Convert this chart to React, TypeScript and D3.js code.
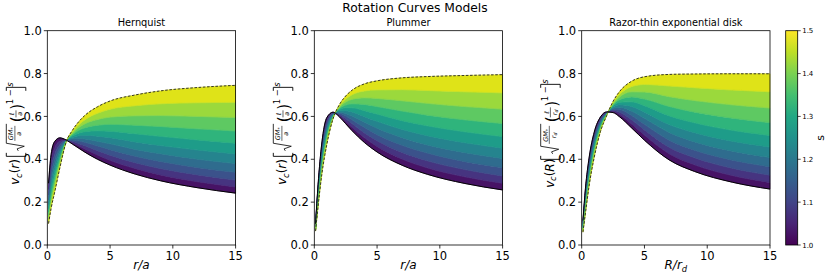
import React from 'react';
import * as d3 from 'd3';

// radius grid shared by the three models (r/a or R/r_d)
const xGrid = [0.1, 0.3, 0.6, 1, 1.5, 2, 2.5, 3, 4, 5, 7, 9, 12, 15];

// fractional index s of each curve, bottom (s = 1) to top (s = 1.5)
const sValues = [1.0, 1.05, 1.1, 1.15, 1.2, 1.25, 1.3, 1.35, 1.4, 1.45, 1.5];

const hernquistCurves = [
  [0.288, 0.421, 0.484, 0.5, 0.49, 0.471, 0.452, 0.433, 0.4, 0.373, 0.331, 0.3, 0.267, 0.242],
  [0.259, 0.385, 0.453, 0.484, 0.489, 0.477, 0.463, 0.448, 0.42, 0.395, 0.357, 0.327, 0.295, 0.271],
  [0.233, 0.351, 0.424, 0.468, 0.488, 0.484, 0.474, 0.463, 0.44, 0.419, 0.384, 0.357, 0.327, 0.303],
  [0.21, 0.321, 0.397, 0.453, 0.487, 0.49, 0.486, 0.479, 0.462, 0.445, 0.414, 0.39, 0.361, 0.339],
  [0.189, 0.293, 0.372, 0.439, 0.486, 0.496, 0.498, 0.495, 0.484, 0.472, 0.446, 0.426, 0.4, 0.38],
  [0.17, 0.268, 0.348, 0.424, 0.485, 0.502, 0.51, 0.512, 0.508, 0.501, 0.481, 0.464, 0.443, 0.425],
  [0.153, 0.244, 0.326, 0.411, 0.484, 0.509, 0.522, 0.529, 0.533, 0.531, 0.519, 0.507, 0.49, 0.475],
  [0.137, 0.223, 0.305, 0.397, 0.483, 0.515, 0.535, 0.547, 0.559, 0.563, 0.559, 0.553, 0.542, 0.532],
  [0.124, 0.204, 0.285, 0.385, 0.482, 0.522, 0.548, 0.566, 0.586, 0.597, 0.603, 0.604, 0.6, 0.595],
  [0.111, 0.186, 0.267, 0.372, 0.481, 0.528, 0.561, 0.585, 0.615, 0.634, 0.65, 0.659, 0.664, 0.666],
  [0.1, 0.17, 0.25, 0.36, 0.48, 0.535, 0.575, 0.605, 0.645, 0.672, 0.7, 0.719, 0.735, 0.745],
];

const plummerCurves = [
  [0.099, 0.281, 0.476, 0.595, 0.62, 0.598, 0.566, 0.534, 0.478, 0.434, 0.372, 0.33, 0.287, 0.257],
  [0.095, 0.269, 0.459, 0.581, 0.617, 0.604, 0.578, 0.55, 0.5, 0.46, 0.401, 0.36, 0.318, 0.288],
  [0.091, 0.257, 0.443, 0.567, 0.614, 0.609, 0.59, 0.567, 0.523, 0.487, 0.432, 0.393, 0.352, 0.322],
  [0.088, 0.246, 0.427, 0.554, 0.611, 0.615, 0.602, 0.584, 0.548, 0.515, 0.465, 0.429, 0.389, 0.361],
  [0.084, 0.235, 0.411, 0.541, 0.608, 0.62, 0.614, 0.602, 0.573, 0.545, 0.501, 0.467, 0.431, 0.404],
  [0.08, 0.225, 0.397, 0.529, 0.605, 0.626, 0.627, 0.621, 0.599, 0.577, 0.539, 0.51, 0.477, 0.452],
  [0.077, 0.215, 0.382, 0.516, 0.602, 0.632, 0.64, 0.64, 0.627, 0.611, 0.58, 0.556, 0.528, 0.506],
  [0.074, 0.206, 0.368, 0.504, 0.599, 0.637, 0.653, 0.659, 0.656, 0.646, 0.625, 0.606, 0.584, 0.567],
  [0.071, 0.197, 0.355, 0.493, 0.596, 0.643, 0.667, 0.68, 0.687, 0.684, 0.673, 0.661, 0.646, 0.634],
  [0.068, 0.188, 0.342, 0.481, 0.593, 0.649, 0.681, 0.701, 0.719, 0.724, 0.725, 0.721, 0.715, 0.71],
  [0.065, 0.18, 0.33, 0.47, 0.59, 0.655, 0.695, 0.722, 0.752, 0.766, 0.78, 0.786, 0.791, 0.795],
];

const diskCurves = [
  [0.114, 0.265, 0.411, 0.527, 0.598, 0.621, 0.618, 0.599, 0.545, 0.489, 0.396, 0.343, 0.293, 0.261],
  [0.107, 0.25, 0.396, 0.514, 0.591, 0.619, 0.623, 0.61, 0.564, 0.513, 0.425, 0.374, 0.324, 0.292],
  [0.1, 0.236, 0.381, 0.501, 0.584, 0.618, 0.628, 0.621, 0.583, 0.537, 0.455, 0.407, 0.358, 0.326],
  [0.094, 0.223, 0.367, 0.489, 0.577, 0.616, 0.633, 0.632, 0.603, 0.563, 0.488, 0.442, 0.396, 0.365],
  [0.088, 0.211, 0.353, 0.477, 0.57, 0.615, 0.638, 0.643, 0.624, 0.591, 0.524, 0.481, 0.438, 0.408],
  [0.083, 0.199, 0.339, 0.465, 0.563, 0.613, 0.643, 0.655, 0.646, 0.62, 0.561, 0.524, 0.484, 0.457],
  [0.078, 0.188, 0.327, 0.453, 0.556, 0.611, 0.649, 0.666, 0.668, 0.65, 0.602, 0.57, 0.535, 0.511],
  [0.073, 0.178, 0.314, 0.442, 0.55, 0.61, 0.654, 0.678, 0.691, 0.681, 0.646, 0.62, 0.592, 0.571],
  [0.068, 0.168, 0.302, 0.431, 0.543, 0.608, 0.659, 0.69, 0.715, 0.714, 0.692, 0.674, 0.654, 0.639],
  [0.064, 0.159, 0.291, 0.421, 0.536, 0.607, 0.665, 0.702, 0.74, 0.749, 0.742, 0.734, 0.723, 0.715],
  [0.06, 0.15, 0.28, 0.41, 0.53, 0.605, 0.67, 0.715, 0.765, 0.785, 0.796, 0.798, 0.799, 0.799],
];

const panelTitles = ['Hernquist', 'Plummer', 'Razor-thin exponential disk'];
const xTicks = [0, 5, 10, 15];
const yTicks = [0, 0.2, 0.4, 0.6, 0.8, 1.0];
const cbarTicks = [1.0, 1.1, 1.2, 1.3, 1.4, 1.5];

const W = 830;
const H = 277;
const FONT = 'DejaVu Sans, sans-serif';
const AX_TOP = 30.7;
const AX_H = 214.3;
const AX_W = 188.3;
const AX_LEFTS = [47.3, 314.3, 581.7];
const CBAR = { x: 785.7, w: 12 };

const color = d3.scaleSequential(d3.interpolateViridis).domain([1.0, 1.5]);

// y-label as a small piece of hand-set math
const YLabel: React.FC<{ cx: number; cy: number; big: string; wide: boolean }> = ({ cx, cy, big, wide }) => {
  const f = 12;
  const dw = wide ? 3 : 0; // extra room when the length unit is r_d
  const L = 98 + 2 * dw;
  const denom = (x: number, y: number) =>
    wide ? (
      <text x={x} y={y} fontSize={6.5} textAnchor="middle" fontStyle="italic">
        r<tspan fontSize={4.6} dy={1.2}>d</tspan>
      </text>
    ) : (
      <text x={x} y={y} fontSize={6.5} textAnchor="middle" fontStyle="italic">a</text>
    );
  return (
    <g transform={`translate(${cx},${cy}) rotate(-90) translate(${-L / 2},0)`} fontFamily={FONT} fill="#000">
      <text x={0} y={0} fontSize={f} fontStyle="italic">v</text>
      <text x={6.9} y={2.7} fontSize={f * 0.7} fontStyle="italic">c</text>
      <text x={11.5} y={0} fontSize={f}>(<tspan fontStyle="italic">{big}</tspan>)</text>
      <path d="M32,-13 H28.5 V6.5 H32" fill="none" stroke="#000" strokeWidth={0.9} />
      <path d={`M34,-1 L36,-2.2 L38.6,5 L41.6,-13 H${61 + dw}`} fill="none" stroke="#000" strokeWidth={0.8} />
      <text x={51 + dw / 2} y={-6.2} fontSize={6.5} textAnchor="middle" fontStyle="italic">
        GM<tspan fontSize={4.6} dy={1.2} fontStyle="normal">*</tspan>
      </text>
      <line x1={44} x2={59 + dw} y1={-4.4} y2={-4.4} stroke="#000" strokeWidth={0.6} />
      {denom(51 + dw / 2, 2)}
      <text x={62.5 + dw} y={2.8} fontSize={f * 1.25}>(</text>
      <text x={71 + dw * 1.5} y={-5} fontSize={6.5} textAnchor="middle" fontStyle="italic">ℓ</text>
      <line x1={67.5 + dw} x2={74.5 + 2 * dw} y1={-3.3} y2={-3.3} stroke="#000" strokeWidth={0.6} />
      {denom(71 + dw * 1.5, 3)}
      <text x={75 + 2 * dw} y={2.8} fontSize={f * 1.25}>)</text>
      <text x={80.5 + 2 * dw} y={-6} fontSize={f * 0.7}>1 − <tspan fontStyle="italic">s</tspan></text>
      <path d={`M${94 + 2 * dw},-13 H${97.5 + 2 * dw} V6.5 H${94 + 2 * dw}`} fill="none" stroke="#000" strokeWidth={0.9} />
    </g>
  );
};

const Panel: React.FC<{ left: number; curves: number[][]; title: string; index: number }> = ({ left, curves, title, index }) => {
  const x = d3.scaleLinear().domain([0, 15]).range([left, left + AX_W]);
  const y = d3.scaleLinear().domain([0, 1]).range([AX_TOP + AX_H, AX_TOP]);

  const line = d3
    .line<number>()
    .x((_, i) => x(xGrid[i]))
    .y((d) => y(d))
    .curve(d3.curveMonotoneX);

  const band = (lo: number[], hi: number[]) =>
    d3
      .area<number>()
      .x((_, i) => x(xGrid[i]))
      .y0((d) => y(d))
      .y1((_, i) => y(hi[i]))
      .curve(d3.curveMonotoneX)(lo) as string;

  const bottom = AX_TOP + AX_H;
  const isDisk = index === 2;

  return (
    <g>
      {curves.slice(0, -1).map((c, k) => {
        const col = color((sValues[k] + sValues[k + 1]) / 2);
        return <path key={`b${k}`} d={band(c, curves[k + 1])} fill={col} stroke={col} strokeWidth={0.6} />;
      })}
      {curves.slice(1, -1).map((c, k) => (
        <path key={`l${k}`} d={line(c) as string} fill="none" stroke={color(sValues[k + 1])} strokeWidth={0.5} />
      ))}
      <path d={line(curves[0]) as string} fill="none" stroke="#000" strokeWidth={1} />
      <path d={line(curves[curves.length - 1]) as string} fill="none" stroke="#222" strokeWidth={0.9} strokeDasharray="2.6,1.6" />

      <rect x={left} y={AX_TOP} width={AX_W} height={AX_H} fill="none" stroke="#000" strokeWidth={0.8} />

      {xTicks.map((t) => (
        <g key={`x${t}`}>
          <line x1={x(t)} x2={x(t)} y1={bottom} y2={bottom + 3.5} stroke="#000" strokeWidth={0.8} />
          <text x={x(t)} y={bottom + 14.5} fontSize={11.5} textAnchor="middle" fontFamily={FONT}>{t}</text>
        </g>
      ))}
      {yTicks.map((t) => (
        <g key={`y${t}`}>
          <line x1={left - 3.5} x2={left} y1={y(t)} y2={y(t)} stroke="#000" strokeWidth={0.8} />
          <text x={left - 5.5} y={y(t) + 4.2} fontSize={11.5} textAnchor="end" fontFamily={FONT}>{t.toFixed(1)}</text>
        </g>
      ))}

      <text x={left + AX_W / 2} y={AX_TOP - 5} fontSize={9.8} textAnchor="middle" fontFamily={FONT}>{title}</text>

      <text x={left + AX_W / 2} y={269} fontSize={12} textAnchor="middle" fontFamily={FONT} fontStyle="italic">
        {isDisk ? (
          <>R/r<tspan fontSize={8.4} dy={2.5}>d</tspan></>
        ) : (
          'r/a'
        )}
      </text>

      <YLabel cx={left - 28} cy={AX_TOP + AX_H / 2 - 2} big={isDisk ? 'R' : 'r'} wide={isDisk} />
    </g>
  );
};

const App: React.FC = () => {
  const cy = d3.scaleLinear().domain([1.0, 1.5]).range([AX_TOP + AX_H, AX_TOP]);
  const stops = d3.range(0, 1.0001, 0.1);
  const allCurves = [hernquistCurves, plummerCurves, diskCurves];

  return (
    <svg width={W} height={H} style={{ position: 'absolute', left: 0, top: 0, background: '#fff' }}>
      <defs>
        <linearGradient id="cbar" x1="0" y1="1" x2="0" y2="0">
          {stops.map((t) => (
            <stop key={t} offset={t} stopColor={d3.interpolateViridis(t)} />
          ))}
        </linearGradient>
      </defs>

      <text x={415} y={12} fontSize={12.3} textAnchor="middle" fontFamily={FONT}>Rotation Curves Models</text>

      {allCurves.map((c, i) => (
        <Panel key={i} left={AX_LEFTS[i]} curves={c} title={panelTitles[i]} index={i} />
      ))}

      <rect x={CBAR.x} y={AX_TOP} width={CBAR.w} height={AX_H} fill="url(#cbar)" stroke="#000" strokeWidth={0.8} />
      {cbarTicks.map((t) => (
        <g key={t}>
          <line x1={CBAR.x + CBAR.w} x2={CBAR.x + CBAR.w + 3} y1={cy(t)} y2={cy(t)} stroke="#000" strokeWidth={0.7} />
          <text x={CBAR.x + CBAR.w + 4.5} y={cy(t) + 2.6} fontSize={7} fontFamily={FONT}>{t.toFixed(1)}</text>
        </g>
      ))}
      <text transform={`translate(824,${AX_TOP + AX_H / 2}) rotate(-90)`} fontSize={11} textAnchor="middle" fontFamily={FONT}>s</text>
    </svg>
  );
};

export default App;
